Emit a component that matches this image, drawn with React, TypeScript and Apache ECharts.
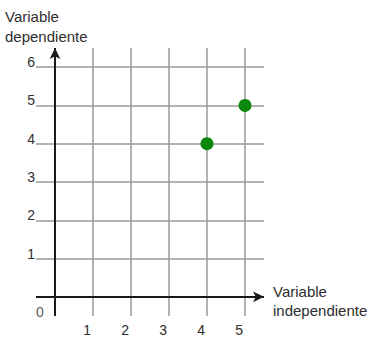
import React, { useEffect, useRef } from "react";
import * as echarts from "echarts";

const xTicks = [1, 2, 3, 4, 5];
const yTicks = [1, 2, 3, 4, 5, 6];
const points = [
  [4, 4],
  [5, 5],
];
const yTitle = "Variable\ndependiente";
const xTitle = "Variable\nindependiente";
const originLabel = "0";

const FONT = "'Liberation Sans', Arial, sans-serif";
const TEXT = "#2e2e2e";

export default function App() {
  const ref = useRef<HTMLDivElement>(null);
  useEffect(() => {
    if (!ref.current) return;
    const chart = echarts.init(ref.current, null, { renderer: "svg" });
    chart.setOption({
      animation: false,
      backgroundColor: "#fff",
      grid: { left: 36, top: 48, width: 228, height: 268 },
      xAxis: {
        type: "value",
        min: -0.5,
        max: 5.5,
        axisLine: { show: false },
        axisTick: { show: false },
        splitLine: { show: false },
        axisLabel: {
          customValues: xTicks,
          margin: 7,
          align: "right",
          padding: [0, 2, 0, 0],
          color: TEXT,
          fontSize: 14,
          fontFamily: FONT,
        },
      },
      yAxis: {
        type: "value",
        min: -0.5,
        max: 6.5,
        axisLine: { show: false },
        axisTick: { show: false },
        splitLine: { show: false },
        axisLabel: {
          customValues: yTicks,
          margin: 1,
          verticalAlign: "bottom",
          lineHeight: 10,
          align: "right",
          color: TEXT,
          fontSize: 14,
          fontFamily: FONT,
        },
      },
      graphic: [
        {
          type: "text",
          left: 5,
          top: 6,
          style: {
            text: yTitle,
            fill: TEXT,
            font: `15px ${FONT}`,
            lineHeight: 20,
          },
        },
        {
          type: "text",
          left: 273,
          top: 282,
          style: {
            text: xTitle,
            fill: TEXT,
            font: `15px ${FONT}`,
            lineHeight: 19,
          },
        },
      ],
      series: [
        {
          type: "scatter",
          name: "grid",
          data: [],
          silent: true,
          z: 1,
          markLine: {
            silent: true,
            symbol: ["none", "none"],
            label: { show: false },
            lineStyle: { color: "#9a9a9a", width: 1.5, type: "solid" },
            data: [
              ...xTicks.map((v) => ({ xAxis: v })),
              ...yTicks.map((v) => ({ yAxis: v })),
            ],
          },
        },
        {
          type: "scatter",
          name: "axes",
          data: [],
          silent: true,
          z: 2,
          markLine: {
            silent: true,
            symbol: ["none", "arrow"],
            symbolSize: [8, 11],
            label: { show: false },
            lineStyle: { color: "#1a1a1a", width: 2, type: "solid" },
            data: [{ xAxis: 0 }, { yAxis: 0 }],
          },
        },
        {
          type: "scatter",
          name: "origin",
          data: [[0, 0]],
          symbolSize: 0,
          silent: true,
          z: 3,
          label: {
            show: true,
            formatter: originLabel,
            position: "inside",
            offset: [-15, 15],
            color: TEXT,
            fontSize: 14,
            fontFamily: FONT,
          },
        },
        {
          type: "scatter",
          name: "points",
          data: points,
          symbolSize: 13,
          z: 10,
          itemStyle: { color: "#0b870b", opacity: 1 },
        },
      ],
    });
    return () => chart.dispose();
  }, []);
  return (
    <div
      ref={ref}
      style={{ position: "absolute", left: 0, top: 0, width: 370, height: 339 }}
    />
  );
}
